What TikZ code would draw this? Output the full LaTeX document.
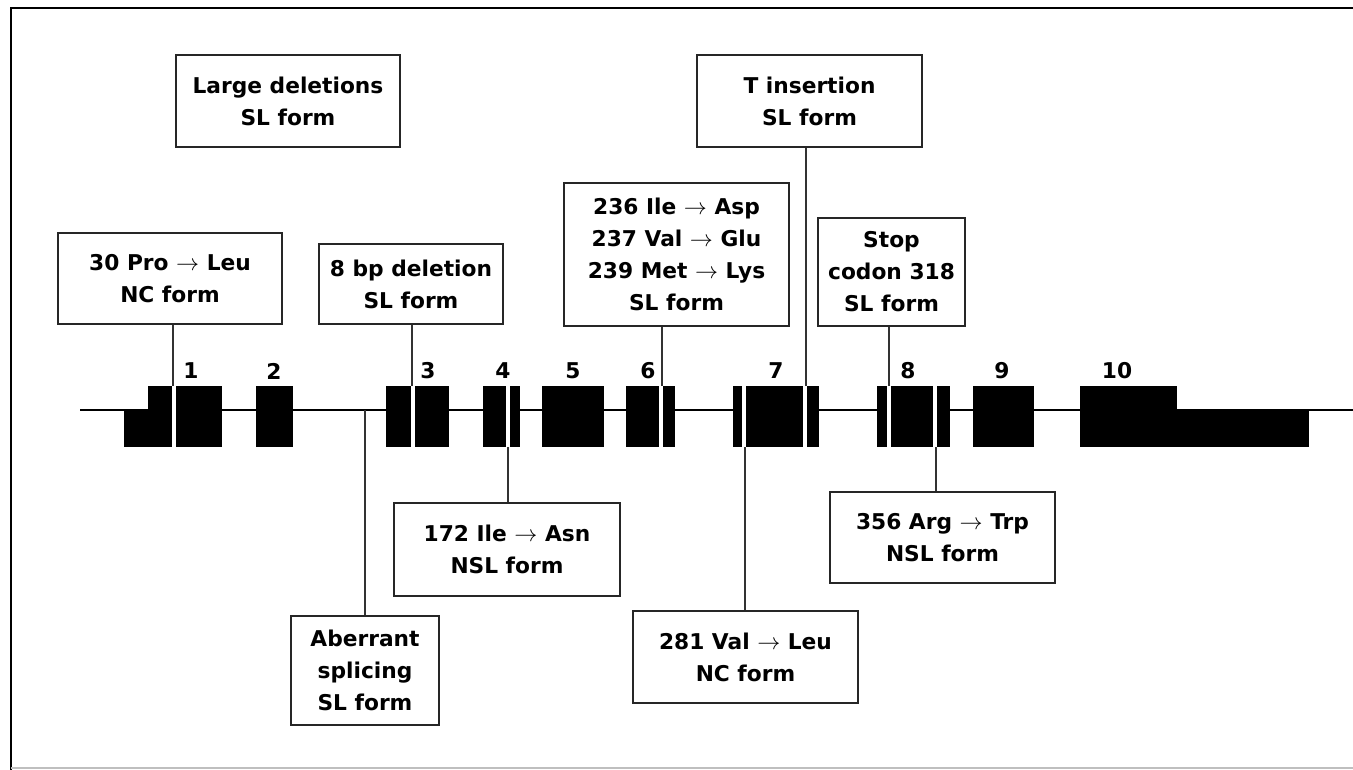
\documentclass[tikz,border=0pt]{standalone}
\usepackage{fontspec}
\setmainfont{DejaVu Sans}
\begin{document}
\begin{tikzpicture}[x=0.75pt,y=-0.75pt,
  line width=1.5pt,
  mbox/.style 2 args={draw=black!85, line width=1.5pt, fill=white, align=center,
    minimum width=#1*0.75pt, minimum height=#2*0.75pt, inner sep=0pt,
    font=\bfseries\fontsize{16.3}{24}\selectfont},
  exlab/.style={font=\bfseries\fontsize{16.3}{18}\selectfont, inner sep=0pt},
  conn/.style={draw=black!80, line width=1.4pt},
  exon/.style={fill=black},
  gap/.style={fill=white}]
\useasboundingbox (0,0) rectangle (1353,770);
% frame
\draw[line width=1.5pt] (11,770) -- (11,8) -- (1353,8);
\draw[black!25, line width=1pt] (11,768) -- (1353,768);
% gene line
\draw[line width=1.5pt] (80,410) -- (1353,410);
% exons
\fill[exon] (124,410) rectangle (222,447);
\fill[exon] (148,386) rectangle (222,447);
\fill[exon] (256,386) rectangle (293,447);
\fill[exon] (386,386) rectangle (449,447);
\fill[exon] (483,386) rectangle (520,447);
\fill[exon] (542,386) rectangle (604,447);
\fill[exon] (626,386) rectangle (675,447);
\fill[exon] (733,386) rectangle (819,447);
\fill[exon] (877,386) rectangle (950,447);
\fill[exon] (973,386) rectangle (1034,447);
\fill[exon] (1080,386) rectangle (1177,447);
\fill[exon] (1177,410) rectangle (1309,447);
% mutation gaps
\fill[gap] (172,386) rectangle (176,447);
\fill[gap] (411,386) rectangle (415,447);
\fill[gap] (506,386) rectangle (510,447);
\fill[gap] (659,386) rectangle (663,447);
\fill[gap] (742,386) rectangle (746,447);
\fill[gap] (803,386) rectangle (807,447);
\fill[gap] (887,386) rectangle (891,447);
\fill[gap] (933,386) rectangle (937,447);
% exon labels
\node[exlab] (l1) at (191,371) {1};
\node[exlab] (l2) at (274,371) {2};
\node[exlab] (l3) at (428,371) {3};
\node[exlab] (l4) at (503,371) {4};
\node[exlab] (l5) at (573,371) {5};
\node[exlab] (l6) at (648,371) {6};
\node[exlab] (l7) at (776,371) {7};
\node[exlab] (l8) at (908,371) {8};
\node[exlab] (l9) at (1002,371) {9};
\node[exlab] (l10) at (1117,371) {10};
% boxes
\node[mbox={224}{92}] (ld) at (288,101) {Large deletions\\SL form};
\node[mbox={224}{91}] (p30) at (170,278.5) {30 Pro $\rightarrow$ Leu\\NC form};
\node[mbox={184}{80}] (bp8) at (411,284) {8 bp deletion\\SL form};
\node[mbox={225}{143}] (m236) at (676.5,254.5) {236 Ile $\rightarrow$ Asp\\237 Val $\rightarrow$ Glu\\239 Met $\rightarrow$ Lys\\SL form};
\node[mbox={225}{92}] (tins) at (809.5,101) {T insertion\\SL form};
\node[mbox={147}{108}] (stop) at (891.5,272) {Stop\\codon 318\\SL form};
\node[mbox={226}{93}] (i172) at (507,549.5) {172 Ile $\rightarrow$ Asn\\NSL form};
\node[mbox={148}{109}] (aber) at (365,670.5) {Aberrant\\splicing\\SL form};
\node[mbox={225}{92}] (v281) at (745.5,657) {281 Val $\rightarrow$ Leu\\NC form};
\node[mbox={225}{91}] (r356) at (942.5,537.5) {356 Arg $\rightarrow$ Trp\\NSL form};
% connector end points on exons / gene line
\coordinate (c1) at (173,386);
\coordinate (c3) at (412,386);
\coordinate (c6) at (662,386);
\coordinate (c7a) at (806,386);
\coordinate (c8a) at (889,386);
\coordinate (ca) at (365,410);
\coordinate (c4) at (508,447);
\coordinate (c7b) at (745,447);
\coordinate (c8b) at (936,447);
% connectors
\draw[conn] (c1 |- p30.south) -- (c1);
\draw[conn] (c3 |- bp8.south) -- (c3);
\draw[conn] (c6 |- m236.south) -- (c6);
\draw[conn] (c7a |- tins.south) -- (c7a);
\draw[conn] (c8a |- stop.south) -- (c8a);
\draw[conn] (ca) -- (ca |- aber.north);
\draw[conn] (c4) -- (c4 |- i172.north);
\draw[conn] (c7b) -- (c7b |- v281.north);
\draw[conn] (c8b) -- (c8b |- r356.north);
\end{tikzpicture}
\end{document}
